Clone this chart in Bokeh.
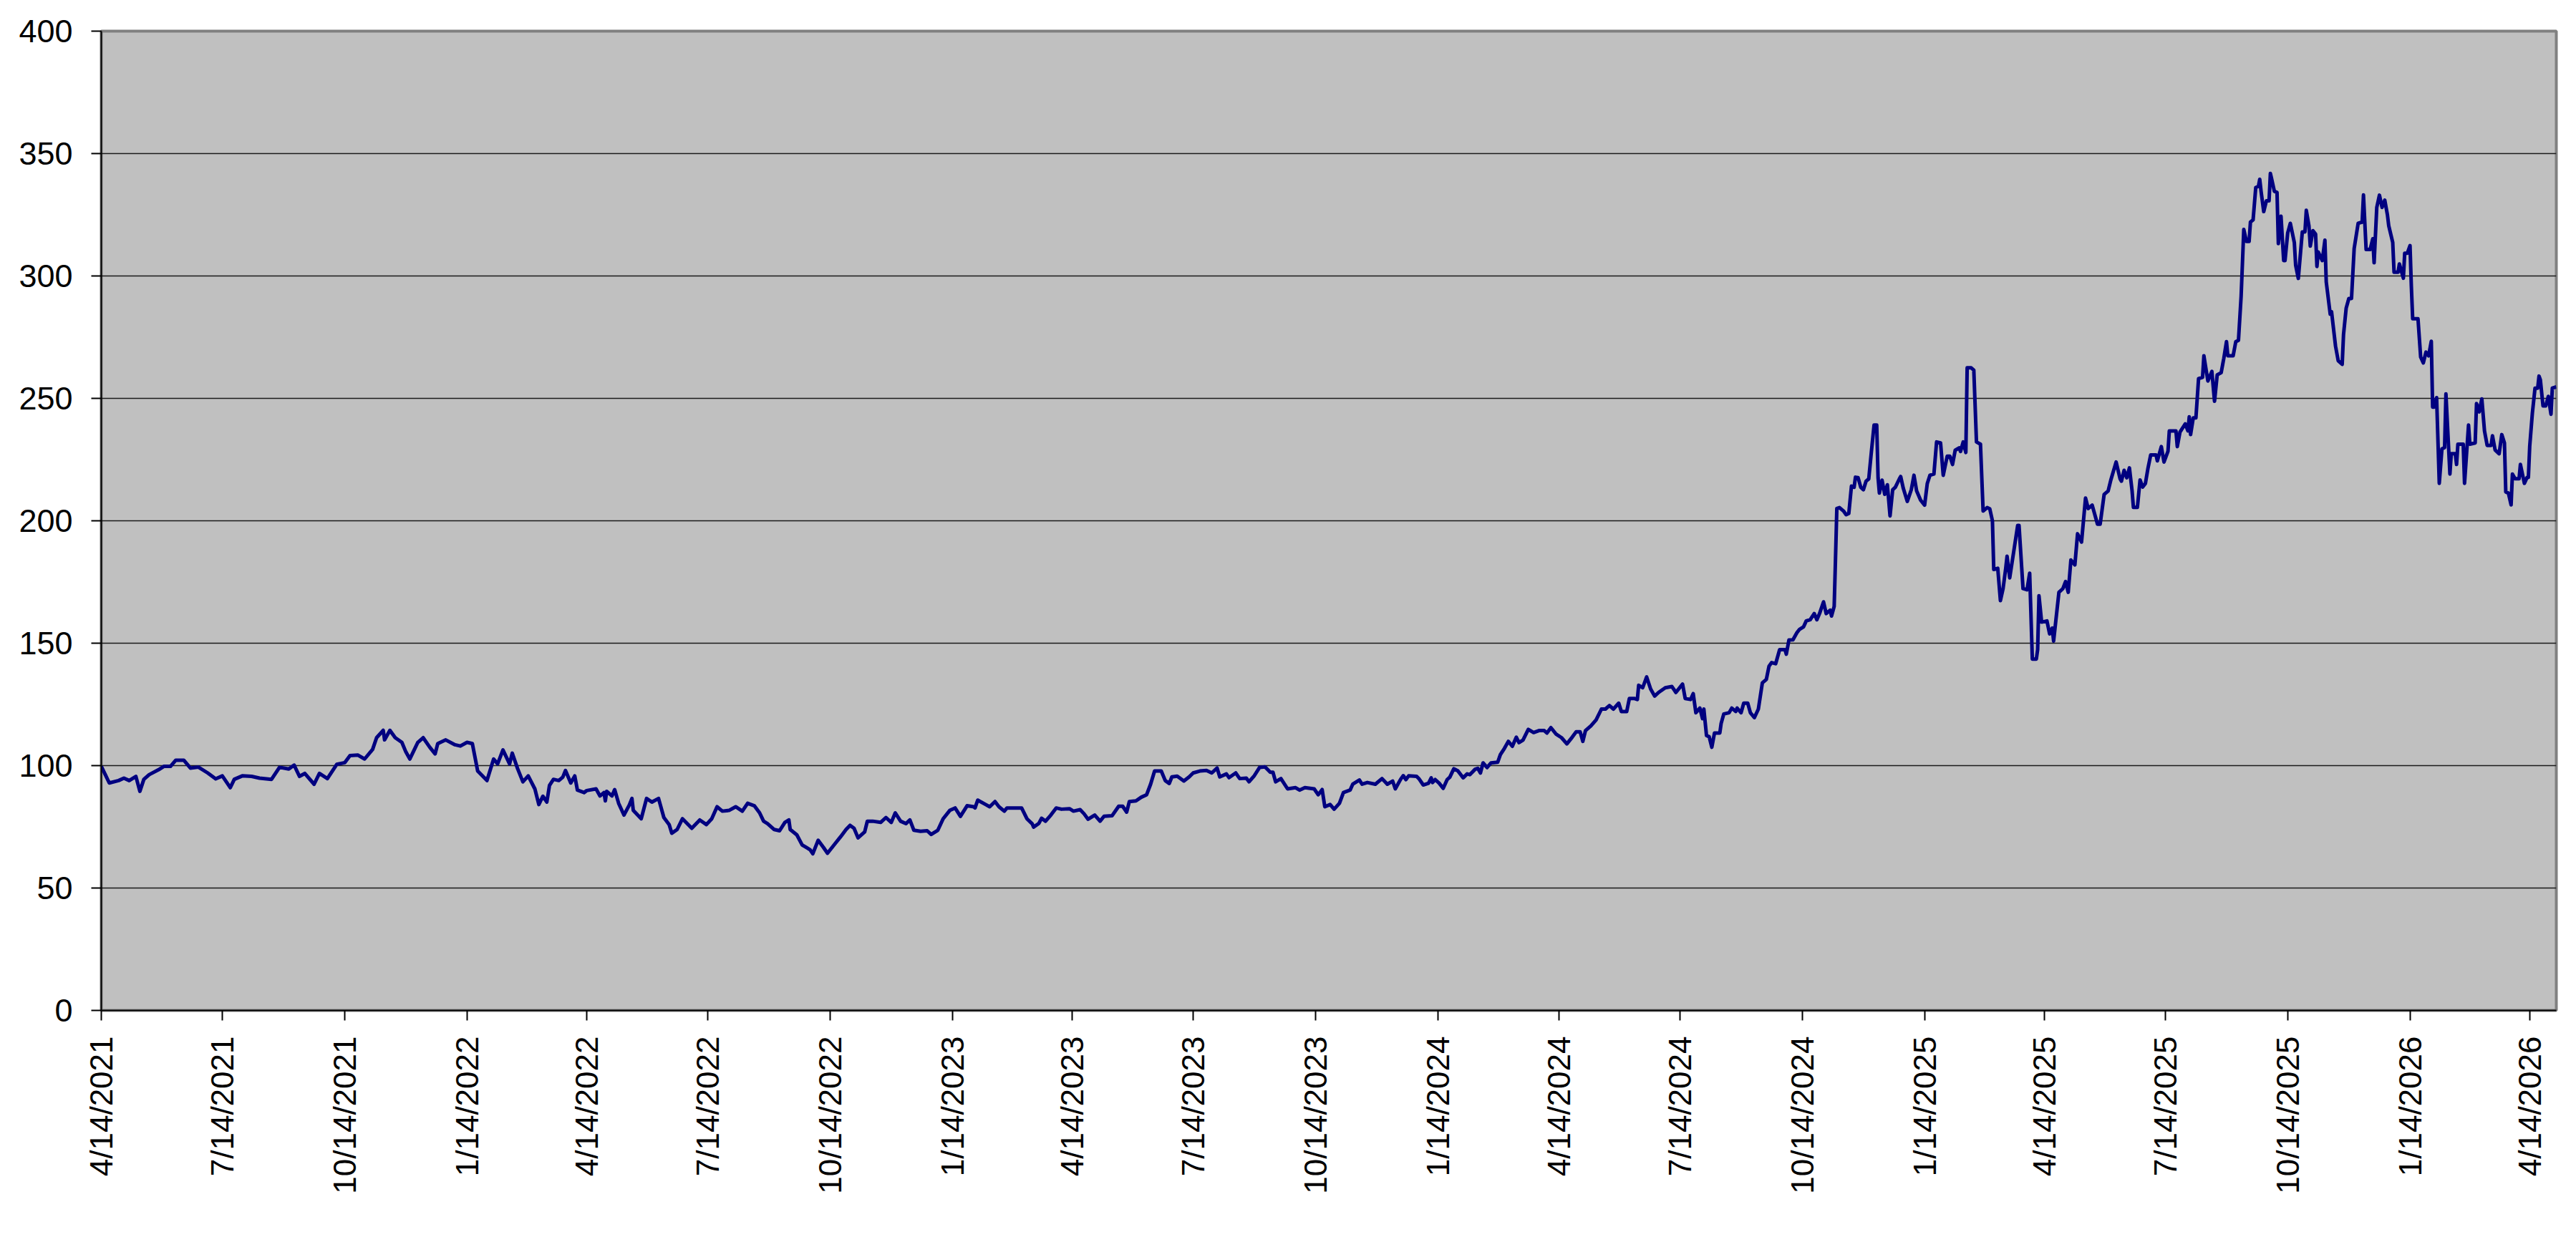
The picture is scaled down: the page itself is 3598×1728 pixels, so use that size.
import math
import pandas as pd
from bokeh.plotting import figure
from bokeh.models import FixedTicker, Range1d, ColumnDataSource
from bokeh.embed import file_html
from bokeh.resources import INLINE

start_date = "2021-04-14"

day_offset = [
    0, 3, 6, 13, 17, 21, 26, 29, 32, 36, 43, 47, 52, 56, 62, 67, 73, 80, 86, 91,
    97, 100, 106, 113, 119, 128, 134, 141, 145, 149, 153, 160, 164, 170, 177, 183, 187, 193, 198, 204,
    207, 212, 213, 217, 221, 226, 229, 232, 235, 238, 242, 247, 251, 253, 259, 266, 270, 275, 279, 283,
    290, 295, 298, 302, 307, 309, 313, 317, 321, 326, 329, 332,
    335, 337, 340, 344, 347, 349, 353, 356, 358, 363, 365, 372, 375, 378, 379, 380, 384, 386, 389, 393,
    397, 399, 400, 406, 410, 414, 419, 423, 427, 429, 433, 437, 444, 450, 455, 459, 463, 467, 472, 477,
    482, 486, 491, 495, 498, 501, 506, 510, 514, 517, 518, 523, 527, 530, 533, 535, 539, 543, 546, 551,
    556, 560, 563, 566, 569, 574, 576, 580, 586, 590, 594, 597, 601, 605, 608, 611, 616, 621, 624, 629,
    633, 638, 642, 646, 651, 656,
    657, 659, 665, 668, 672, 675, 679, 681, 688, 692, 696, 700, 701, 705, 707, 710, 714, 718, 722, 728,
    731, 736, 739, 742, 747, 751, 754, 760, 765, 768, 771, 773, 778, 782, 786, 789, 792, 797, 800, 803,
    805, 809, 814, 818, 821, 826, 831, 835, 839, 841, 846, 848, 853, 856, 861, 863, 867, 871, 875, 879,
    881, 883, 887, 892, 898, 901, 905, 912, 915, 918, 920, 924, 927, 931, 934, 939, 941, 946, 948, 952,
    958, 963, 967, 971, 973, 977, 979,
    981, 983, 989, 991, 994, 998, 1000, 1001, 1003, 1006, 1009, 1012, 1014, 1017, 1020, 1024, 1027, 1029, 1033, 1035,
    1037, 1039, 1042, 1045, 1050, 1052, 1055, 1058, 1061, 1064, 1066, 1069, 1073, 1077, 1081, 1085, 1087, 1090, 1094, 1098,
    1102, 1106, 1109, 1112, 1114, 1116, 1120, 1124, 1128, 1131, 1134, 1137, 1141, 1143, 1147, 1149, 1153, 1155, 1156, 1159,
    1162, 1165, 1168, 1171, 1176, 1181, 1184, 1189, 1191, 1195, 1197, 1199, 1202, 1204, 1205, 1207, 1209, 1211, 1213, 1217,
    1218, 1220, 1224, 1226, 1229, 1230, 1233, 1235, 1238, 1240, 1243, 1246, 1249, 1252, 1254, 1256, 1259, 1262, 1266, 1267,
    1269,
    1272, 1275, 1277, 1280, 1282, 1285, 1288, 1290, 1292, 1295, 1297, 1300, 1301, 1303, 1304, 1305, 1307, 1310, 1312, 1314,
    1316, 1318, 1319, 1321, 1323, 1325, 1327, 1329, 1331, 1333, 1335, 1336, 1337, 1339, 1341, 1343, 1345, 1347, 1349, 1352,
    1353, 1355, 1358, 1361, 1363, 1365, 1368, 1371, 1373, 1375, 1378, 1380, 1383, 1385, 1388, 1390, 1392, 1394, 1397, 1398,
    1400, 1402, 1403, 1406, 1408, 1410, 1413, 1415, 1418, 1420, 1422, 1423, 1426, 1428, 1430, 1432, 1433, 1435, 1438, 1441,
    1442, 1445, 1448, 1450, 1452, 1455, 1456, 1457, 1459, 1463, 1465, 1467, 1468, 1472, 1475, 1477, 1479, 1481, 1484, 1486,
    1489, 1492, 1494, 1497, 1501, 1503, 1506, 1509, 1511, 1515, 1518,
    1519, 1521, 1523, 1525, 1527, 1528, 1531, 1533, 1535, 1537, 1539, 1541, 1545, 1546, 1549, 1551, 1554, 1555, 1560, 1561,
    1563, 1567, 1569, 1570, 1571, 1573, 1575, 1577, 1580, 1581, 1584, 1587, 1589, 1591, 1594, 1596, 1598, 1599, 1603, 1605,
    1607, 1609, 1611, 1613, 1615, 1616, 1618, 1620, 1622, 1623, 1624, 1626, 1628, 1630, 1631, 1632, 1634, 1636, 1637, 1639,
    1641, 1642, 1644, 1646, 1649, 1650, 1652, 1655, 1657, 1658, 1660, 1661, 1663, 1665, 1666, 1667, 1670, 1672, 1673, 1676,
    1677, 1680, 1682, 1685, 1686, 1688, 1690, 1692, 1694, 1697, 1700, 1701,
    1703, 1706, 1708, 1709, 1711, 1713, 1715, 1717, 1719, 1720, 1723, 1724, 1727, 1728, 1731, 1732, 1734, 1736, 1737, 1738,
    1742, 1744, 1746, 1748, 1750, 1752, 1753, 1754, 1756, 1758, 1760, 1762, 1763, 1766, 1767, 1770, 1771, 1772, 1776, 1777,
    1780, 1781, 1785, 1786, 1788, 1790, 1792, 1794, 1797, 1798, 1800, 1803, 1805, 1807, 1808, 1810, 1812, 1813, 1815, 1818,
    1819, 1822, 1824, 1825, 1826, 1828, 1830, 1832, 1833, 1834, 1836, 1838, 1840, 1842, 1843, 1846,
]

price = [
    99.7, 96.3, 92.9, 93.9, 94.9, 93.9, 95.6, 89.5, 94.4, 96.3, 98.3, 99.7, 99.7, 102.2, 102.2, 99.0, 99.4, 97.0, 94.6, 95.8,
    91.0, 94.4, 95.8, 95.6, 94.9, 94.4, 99.3, 98.6, 100.2, 95.6, 96.8, 92.4, 96.8, 94.7, 100.5, 101.2, 104.1, 104.3, 102.7, 106.6,
    111.4, 114.4, 110.5, 114.4, 111.4, 109.5, 105.6, 102.7, 106.1, 109.5, 111.4, 107.5, 104.8, 109.0, 110.5, 108.5, 108.0, 109.5, 109.0, 97.8,
    93.9, 102.7, 100.7, 106.4, 100.7, 105.1, 98.8, 93.4, 95.8, 90.5, 84.1, 87.5,
    85.1, 91.9, 94.4, 93.9, 95.3, 98.0, 92.9, 95.8, 90.0, 89.0, 89.8, 90.5, 87.6, 89.0, 85.6, 89.5, 87.6, 90.2, 84.6, 79.8,
    83.9, 86.6, 81.7, 78.3, 86.6, 85.1, 86.6, 78.8, 75.9, 72.4, 73.9, 78.3, 74.4, 77.8, 75.9, 78.3, 83.2, 81.4, 81.7, 83.2,
    81.4, 84.6, 83.6, 80.7, 77.3, 76.3, 73.9, 73.4, 76.8, 77.8, 73.9, 71.7, 67.6, 66.6, 65.6, 64.0, 69.5, 66.6, 64.2, 67.6,
    71.0, 73.9, 75.6, 74.4, 70.5, 72.9, 77.3, 77.3, 76.8, 78.8, 76.8, 80.7, 77.3, 76.3, 77.8, 73.6, 73.2, 73.4, 71.9, 73.6,
    78.3, 81.7, 82.7, 79.3, 83.6, 83.2,
    82.7, 85.9, 84.1, 83.2, 85.3, 83.2, 81.4, 82.7, 82.7, 82.7, 78.3, 76.2, 74.9, 76.4, 78.5, 77.3, 79.8, 82.7, 82.2, 82.4,
    81.4, 82.0, 80.3, 78.1, 79.8, 77.3, 79.3, 79.5, 83.4, 83.4, 81.0, 85.3, 85.6, 87.1, 88.1, 92.4, 97.8, 97.8, 93.9, 92.7,
    95.4, 95.7, 93.7, 95.4, 97.0, 97.8, 98.0, 97.0, 99.0, 95.4, 96.6, 95.1, 97.0, 94.7, 94.9, 93.4, 95.9, 99.3, 99.5, 97.3,
    97.3, 93.4, 94.7, 90.5, 91.0, 90.0, 91.0, 90.5, 88.1, 90.2, 83.2, 84.1, 82.2, 84.6, 89.0, 90.0, 92.4, 94.1, 92.4, 93.1,
    92.4, 94.7, 92.4, 93.7, 90.5, 94.4, 95.9,
    94.3, 95.8, 95.6, 94.5, 92.1, 92.8, 95.0, 93.1, 94.3, 92.8, 90.7, 94.3, 95.3, 98.7, 97.9, 95.0, 96.6, 96.3, 98.5, 98.9,
    97.0, 101.1, 99.2, 101.1, 101.4, 104.5, 107.0, 109.9, 107.9, 111.6, 109.4, 110.4, 114.8, 113.5, 114.3, 114.3, 113.3, 115.5, 112.8, 111.4,
    108.9, 111.6, 113.8, 113.8, 109.9, 114.3, 116.2, 118.7, 123.1, 123.1, 124.5, 123.1, 125.5, 122.1, 122.1, 127.4, 127.4, 127.0, 132.8, 131.8,
    136.2, 131.3, 128.4, 129.9, 131.8, 132.3, 129.9, 133.3, 127.4, 127.0, 129.4, 121.6, 123.5, 119.2, 123.1, 112.3, 111.8, 107.5, 113.3, 113.3,
    117.2, 121.1, 121.6, 123.5, 122.1, 123.5, 121.6, 125.5, 125.5, 121.6, 119.6, 123.1, 133.8, 135.2, 140.6, 142.1, 141.6, 147.4, 147.4, 145.5,
    151.3,
    151.4, 154.3, 155.7, 156.7, 159.1, 159.6, 162.1, 159.6, 162.1, 166.9, 162.1, 163.5, 161.1, 165.0, 184.5, 205.0, 205.4, 204.0, 202.5, 203.0,
    214.2, 213.7, 217.8, 217.6, 213.7, 212.7, 216.2, 217.1, 228.3, 239.1, 239.1, 217.6, 211.3, 216.6, 210.8, 214.7, 202.0, 212.7, 213.7, 217.1,
    218.1, 213.2, 207.9, 212.7, 218.6, 212.2, 208.4, 206.4, 215.2, 218.6, 219.1, 232.2, 231.8, 218.6, 226.4, 226.4, 223.0, 228.8, 229.8, 228.3,
    232.2, 227.9, 262.5, 262.5, 261.5, 232.2, 231.3, 204.0, 205.4, 204.9, 200.0, 180.1, 180.6, 167.4, 172.3, 180.6, 185.5, 176.7, 187.4, 198.1,
    198.1, 172.3, 171.8, 178.6, 143.5, 143.5, 147.4, 169.4, 158.6, 159.1, 153.8, 156.2, 150.9, 170.8, 172.3, 175.2, 170.8, 184.0, 182.0, 194.7,
    191.3, 209.3, 205.0, 206.4, 198.6, 198.6, 210.8, 212.2, 216.6, 224.0, 217.1,
    216.2, 220.6, 217.6, 221.6, 212.3, 205.5, 205.5, 216.7, 213.8, 215.2, 221.6, 226.9, 226.9, 224.5, 230.3, 224.0, 228.4, 236.7, 236.7, 230.3,
    236.2, 239.6, 236.7, 242.5, 235.2, 242.0, 242.0, 258.1, 258.6, 267.4, 257.1, 261.0, 248.8, 259.6, 260.5, 266.4, 273.2, 267.4, 267.4, 273.2,
    273.7, 291.7, 319.0, 314.1, 314.1, 322.0, 322.9, 336.1, 336.6, 339.5, 334.6, 326.3, 330.7, 330.7, 341.9, 339.5, 334.6, 334.1, 313.2, 324.4,
    306.3, 306.3, 317.5, 321.5, 313.7, 304.4, 299.0, 318.0, 318.0, 326.8, 320.5, 312.2, 318.5, 317.1, 303.9, 309.8, 306.3, 314.6, 297.6, 284.4,
    285.4, 271.3, 265.4, 263.9, 276.1, 286.9, 290.8, 290.8, 311.2, 321.5, 322.0, 333.1,
    310.8, 310.8, 315.2, 305.4, 328.0, 333.0, 328.0, 331.0, 325.0, 320.5, 313.7, 301.5, 301.5, 304.9, 299.1, 309.3, 309.3, 312.4, 295.7, 282.5,
    282.5, 266.9, 264.5, 268.9, 267.4, 273.3, 246.4, 246.4, 250.3, 215.3, 229.4, 229.9, 251.8, 219.1, 227.4, 227.4, 223.0, 231.3, 231.3, 215.3,
    239.1, 231.3, 231.8, 247.9, 244.5, 249.8, 236.7, 230.8, 230.8, 234.7, 228.9, 227.4, 235.2, 231.8, 211.8, 211.3, 206.5, 219.1, 217.2, 217.2,
    223.0, 215.3, 217.7, 217.7, 230.4, 244.0, 254.2, 254.2, 259.1, 257.6, 246.9, 246.9, 250.8, 243.5, 254.2, 254.7,
]

tick_labels = [
    "4/14/2021", "7/14/2021", "10/14/2021", "1/14/2022", "4/14/2022", "7/14/2022",
    "10/14/2022", "1/14/2023", "4/14/2023", "7/14/2023", "10/14/2023", "1/14/2024",
    "4/14/2024", "7/14/2024", "10/14/2024", "1/14/2025", "4/14/2025", "7/14/2025",
    "10/14/2025", "1/14/2026", "4/14/2026",
]

y_ticks = [0, 50, 100, 150, 200, 250, 300, 350, 400]

start = pd.Timestamp(start_date)
tick_days = [int((pd.to_datetime(t, format="%m/%d/%Y") - start).days) for t in tick_labels]

source = ColumnDataSource(data=dict(x=day_offset, y=price))

FONT = "Liberation Sans"

p = figure(
    width=3582, height=1712,
    x_range=Range1d(0, day_offset[-1]), y_range=Range1d(y_ticks[0], y_ticks[-1]),
    output_backend="svg", toolbar_location=None, title=None,
    min_border_left=141, min_border_right=12, min_border_top=43, min_border_bottom=301,
    background_fill_color="#C0C0C0", border_fill_color="white",
    outline_line_color="#808080", outline_line_width=4,
)

p.line("x", "y", source=source, line_color="#000080", line_width=5, line_join="round")

p.xgrid.visible = False
p.ygrid.ticker = FixedTicker(ticks=y_ticks)
p.ygrid.grid_line_color = "#1a1a1a"
p.ygrid.grid_line_width = 1.5

xa = p.xaxis[0]
xa.ticker = FixedTicker(ticks=tick_days)
xa.major_label_overrides = {d: lbl for d, lbl in zip(tick_days, tick_labels)}
xa.major_label_orientation = math.pi / 2
xa.major_label_text_font = FONT
xa.major_label_text_font_size = "44px"
xa.major_label_text_color = "black"
xa.major_label_standoff = 22
xa.major_tick_out = 14
xa.major_tick_in = 0
xa.minor_tick_out = 0
xa.minor_tick_in = 0
xa.major_tick_line_color = "black"
xa.major_tick_line_width = 2
xa.axis_line_color = "black"
xa.axis_line_width = 2

ya = p.yaxis[0]
ya.ticker = FixedTicker(ticks=y_ticks)
ya.major_label_text_font = FONT
ya.major_label_text_font_size = "45px"
ya.major_label_text_color = "black"
ya.major_label_standoff = 26
ya.major_tick_out = 14
ya.major_tick_in = 0
ya.minor_tick_out = 0
ya.minor_tick_in = 0
ya.major_tick_line_color = "black"
ya.major_tick_line_width = 2
ya.axis_line_color = "black"
ya.axis_line_width = 2

open("out.html", "w").write(file_html(p, INLINE))
